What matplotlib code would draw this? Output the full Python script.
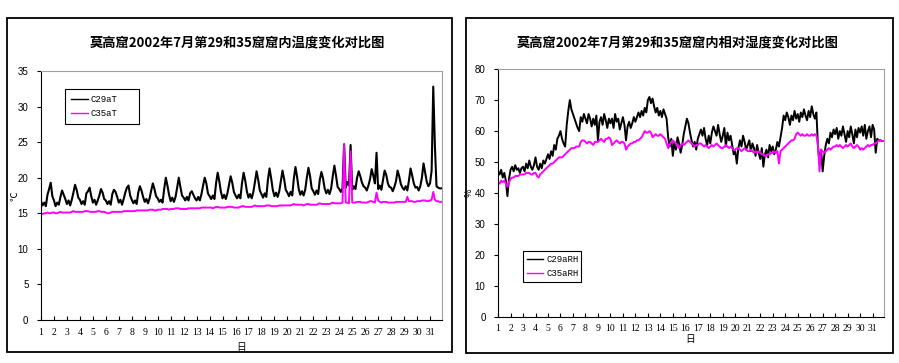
import numpy as np
import matplotlib.pyplot as plt
from matplotlib.patches import Rectangle

plt.rcParams['font.family'] = ['Liberation Sans', 'DejaVu Sans']

# readings every 3 hours, 8 per day, July 1 - 31 (one row per day)
c29_temp = [
    16.7, 16.1, 16.5, 16.0, 17.6, 18.4, 19.3, 17.4,
    16.8, 16.0, 16.5, 16.2, 17.3, 18.2, 17.6, 17.0,
    16.3, 16.8, 16.1, 16.9, 17.9, 19.0, 18.3, 17.2,
    16.9, 16.3, 16.7, 16.2, 17.8, 18.1, 18.6, 17.4,
    16.5, 16.9, 16.2, 16.8, 17.5, 18.4, 17.9, 17.0,
    16.8, 16.3, 16.7, 16.2, 17.7, 18.3, 18.0, 17.3,
    16.5, 16.9, 16.2, 17.0, 17.9, 18.6, 18.9, 17.5,
    16.9, 16.4, 16.8, 16.3, 17.9, 18.8, 18.2, 17.3,
    16.6, 17.0, 16.4, 17.1, 18.2, 19.2, 18.4, 17.4,
    17.1, 16.6, 16.9, 16.5, 18.4, 20.0, 18.9, 17.6,
    16.7, 17.2, 16.6, 17.3, 18.6, 20.0, 18.7, 17.5,
    17.2, 16.8, 17.3, 16.8, 17.8, 18.1, 17.6, 17.1,
    16.8, 17.3, 16.8, 17.7, 18.9, 20.0, 19.2, 17.8,
    17.4, 17.0, 17.5, 17.0, 19.2, 20.7, 19.5, 18.0,
    17.1, 17.6, 17.0, 17.8, 19.0, 20.2, 19.3, 18.0,
    17.5, 17.1, 17.6, 17.1, 19.2, 20.7, 19.6, 18.1,
    17.2, 17.7, 17.1, 18.0, 19.4, 20.9, 19.7, 18.2,
    17.7, 17.2, 17.8, 17.3, 19.7, 21.3, 19.9, 18.3,
    17.4, 17.9, 17.3, 18.1, 19.6, 21.0, 19.8, 18.3,
    17.9, 17.4, 18.0, 17.5, 19.9, 21.5, 20.1, 18.4,
    17.6, 18.1, 17.5, 18.3, 20.0, 21.4, 20.2, 18.5,
    18.1, 17.6, 18.2, 17.7, 19.7, 20.8, 19.9, 18.5,
    17.8, 18.3, 17.7, 18.5, 20.2, 21.7, 20.3, 18.7,
    18.4, 18.0, 18.5, 24.7, 18.6, 19.4, 18.9, 24.6,
    18.3, 18.8, 18.4, 20.0, 20.9, 20.2, 19.3, 18.8,
    18.6, 18.2, 18.9, 19.8, 21.2, 20.3, 19.2, 23.5,
    18.4, 18.9, 18.3, 19.7, 21.0, 20.4, 19.2, 18.7,
    18.6, 18.1, 18.7, 19.5, 21.0, 20.2, 19.1, 18.6,
    18.3, 18.8, 18.2, 19.6, 21.3, 20.3, 19.2, 18.6,
    18.7, 18.2, 18.8, 20.0, 22.0, 20.7, 19.4, 18.8,
    19.2, 21.0, 32.8, 24.5, 18.8, 18.6, 18.5, 18.5,
]
c35_temp = [
    14.9, 14.9, 15.0, 15.0, 15.1, 15.0, 15.0, 15.1,
    15.1, 15.0, 15.0, 15.1, 15.2, 15.1, 15.1, 15.1,
    15.1, 15.1, 15.1, 15.2, 15.3, 15.2, 15.2, 15.2,
    15.2, 15.2, 15.2, 15.3, 15.3, 15.3, 15.2, 15.2,
    15.2, 15.2, 15.2, 15.3, 15.3, 15.2, 15.2, 15.2,
    15.1, 15.0, 15.0, 15.1, 15.2, 15.2, 15.2, 15.2,
    15.2, 15.2, 15.2, 15.3, 15.3, 15.3, 15.3, 15.3,
    15.3, 15.3, 15.3, 15.4, 15.4, 15.4, 15.4, 15.4,
    15.4, 15.4, 15.4, 15.5, 15.5, 15.5, 15.4, 15.4,
    15.5, 15.5, 15.5, 15.6, 15.6, 15.6, 15.6, 15.5,
    15.6, 15.6, 15.6, 15.7, 15.7, 15.7, 15.6, 15.6,
    15.6, 15.6, 15.6, 15.7, 15.7, 15.7, 15.7, 15.7,
    15.7, 15.7, 15.7, 15.8, 15.8, 15.8, 15.8, 15.8,
    15.8, 15.8, 15.7, 15.8, 15.9, 15.9, 15.8, 15.8,
    15.8, 15.8, 15.8, 15.9, 15.9, 15.9, 15.9, 15.8,
    15.8, 15.8, 15.8, 15.9, 16.0, 16.0, 15.9, 15.9,
    15.9, 15.9, 15.9, 16.0, 16.1, 16.0, 16.0, 16.0,
    16.0, 16.0, 16.0, 16.1, 16.1, 16.1, 16.0, 16.0,
    16.0, 16.0, 16.0, 16.1, 16.1, 16.1, 16.1, 16.1,
    16.1, 16.1, 16.1, 16.2, 16.3, 16.2, 16.2, 16.2,
    16.2, 16.2, 16.1, 16.2, 16.3, 16.3, 16.2, 16.2,
    16.2, 16.2, 16.2, 16.3, 16.4, 16.3, 16.3, 16.3,
    16.3, 16.3, 16.3, 16.4, 16.5, 16.4, 16.4, 16.4,
    16.4, 16.4, 16.5, 24.6, 16.5, 16.5, 16.4, 23.7,
    16.5, 16.5, 16.5, 16.6, 16.6, 16.6, 16.5, 16.5,
    16.5, 16.5, 16.6, 16.7, 16.7, 16.6, 16.5, 17.9,
    16.8, 16.6, 16.5, 16.6, 16.6, 16.6, 16.5, 16.5,
    16.5, 16.5, 16.5, 16.6, 16.6, 16.6, 16.6, 16.6,
    16.6, 16.6, 17.3, 16.7, 16.7, 16.7, 16.6, 16.6,
    16.7, 16.7, 16.7, 16.8, 16.8, 16.8, 16.7, 16.7,
    16.8, 16.9, 18.0, 16.9, 16.7, 16.7, 16.6, 16.6,
]
c29_rh = [
    47.0, 46.0, 47.5, 45.0, 46.5, 44.0, 39.0, 44.5,
    47.5, 48.5, 47.0, 49.0, 47.5, 48.0, 46.5, 48.0,
    48.5, 47.0, 49.5, 48.0, 50.5, 48.5, 47.5, 49.0,
    51.5, 48.5, 47.5, 49.5, 48.0, 50.5, 49.5, 51.0,
    52.5, 51.0, 53.5, 52.0, 55.5, 54.0, 57.5, 58.5,
    60.0, 57.5, 56.0, 55.0, 62.0, 66.5, 70.0, 67.0,
    65.5, 64.0, 62.5, 61.0, 60.0, 64.5, 63.0, 65.5,
    64.0, 62.5, 65.5, 64.0, 61.5, 64.0, 62.0, 65.0,
    57.0, 63.0, 64.5, 62.0, 65.5, 63.5, 61.0, 64.0,
    62.5, 64.0, 61.0, 65.5, 63.0, 64.0, 60.5, 62.5,
    64.5, 62.0, 57.0, 61.5, 63.0, 61.0, 62.5, 64.5,
    63.0, 64.5, 66.0, 64.5, 66.5, 65.0, 67.5, 66.0,
    70.0, 71.0, 69.0, 70.5, 68.0, 66.0, 67.5, 65.0,
    66.5, 64.5, 67.0, 65.5, 64.0, 58.0, 55.0, 57.5,
    52.0, 56.5, 54.0, 58.0, 56.0, 53.0, 55.5, 59.0,
    61.5, 64.0, 62.5, 59.5, 57.0, 55.0, 56.5, 54.0,
    57.5, 59.0, 60.5, 58.5, 61.0, 57.5, 55.5, 58.5,
    56.0, 59.5, 61.5, 60.0, 58.5, 62.0, 59.0, 56.5,
    58.5, 61.0, 55.0, 59.5, 57.0, 58.5, 55.5, 52.5,
    53.5, 49.5, 54.5, 57.0, 55.0, 58.5, 56.5, 54.0,
    55.5, 57.0, 53.5, 56.0, 54.5, 52.0, 55.5, 53.0,
    51.0, 54.5, 48.5, 52.5, 54.0, 51.5, 55.5, 53.5,
    55.0, 52.5, 54.0, 56.5, 55.0, 58.0, 61.0, 65.0,
    63.5, 66.0, 64.5, 62.0, 65.0, 63.5, 66.5, 64.0,
    65.5, 63.0, 66.0, 64.5, 67.0, 65.0, 63.5, 66.5,
    64.5, 68.0, 65.5, 64.0, 66.0, 55.0, 50.0, 54.0,
    47.0, 52.0, 55.5, 57.5, 56.0, 59.5, 58.0, 60.5,
    59.0, 61.0, 57.5, 60.0, 58.5, 61.5, 59.0, 56.5,
    60.0, 58.0, 61.5, 59.0, 56.0, 60.5, 58.0, 61.0,
    59.5, 61.5, 58.5, 62.0, 57.5, 60.0, 61.5, 58.0,
    62.0, 60.5, 53.0, 57.5, 57.0, 57.0, 56.8, 56.8,
]
c35_rh = [
    43.5, 43.0, 44.0, 43.5, 44.0, 43.0, 42.0, 43.5,
    44.5, 45.0, 45.0, 45.5, 45.5, 45.5, 46.0, 46.0,
    46.0, 46.0, 46.5, 46.5, 46.5, 46.0, 46.0, 46.5,
    46.5, 45.5, 45.0, 46.0, 46.5, 47.0, 47.5, 48.0,
    48.5, 49.0, 49.5, 49.5, 50.0, 50.5, 51.0, 51.5,
    51.5, 51.5, 52.0, 52.5, 53.0, 53.5, 54.0, 54.5,
    54.5, 54.5, 55.0, 55.0, 55.0, 56.5, 57.0, 57.0,
    56.5, 56.0, 56.5, 56.5, 56.0, 55.5, 56.5, 56.5,
    56.5, 57.0, 57.5, 57.0, 56.5, 57.5, 57.5, 58.0,
    57.5, 55.5, 56.0, 56.5, 57.0, 56.5, 56.0, 56.5,
    56.5, 56.0, 54.0, 55.0, 55.5, 56.0, 56.0, 56.5,
    56.5, 57.0, 57.0, 57.5, 58.0, 59.0, 60.0, 59.5,
    59.5, 60.0, 59.5, 58.0, 58.5, 59.0, 58.5, 58.5,
    59.0, 58.5, 58.0, 57.5, 56.0, 54.5, 55.5, 56.5,
    57.0, 56.5, 56.0, 55.0, 54.5, 55.5, 56.0, 55.5,
    56.0, 56.5, 57.0, 56.5, 56.0, 55.5, 55.0, 55.5,
    55.5, 56.0, 56.0, 55.5, 55.0, 55.5, 55.0, 54.5,
    55.0, 55.5, 55.0, 55.5, 56.0, 55.5, 55.0, 54.5,
    54.5, 55.0, 55.5, 55.0, 54.5, 55.0, 54.5, 54.0,
    54.0, 54.5, 54.5, 54.0, 53.5, 54.0, 54.5, 54.0,
    53.5, 53.5, 54.0, 53.5, 53.0, 53.5, 53.0, 53.5,
    53.0, 52.5, 52.5, 52.0, 52.0, 52.5, 52.5, 53.0,
    53.0, 53.5, 53.0, 53.5, 49.5, 53.5, 54.0, 54.5,
    55.0, 55.5, 56.0, 56.5, 57.0, 57.0, 57.5, 59.0,
    59.5, 59.0, 58.5, 59.0, 58.5, 58.5, 59.0, 58.5,
    58.5, 59.0, 58.5, 59.0, 58.5, 55.5, 47.0, 54.0,
    53.5, 53.0, 53.5, 54.0, 54.5, 54.0, 54.5, 55.0,
    55.0, 55.5, 55.0, 55.5, 55.0, 54.5, 55.0, 55.5,
    55.0, 55.5, 56.0, 55.0, 54.5, 55.0, 55.5, 55.0,
    54.0, 54.5, 54.0, 54.5, 55.0, 55.5, 55.0, 55.5,
    55.5, 56.0, 56.0, 56.5, 57.0, 57.0, 56.8, 56.8,
]
days = list(range(1, 32))
t = 1 + np.arange(len(c29_temp)) / 8

title_font = ['Noto Sans CJK SC', 'DejaVu Sans']

fig = plt.figure(figsize=(8.99, 3.63), dpi=100)

# outer chart frames
fig.patches.append(Rectangle((0.0078, 0.0303), 0.495, 0.920, transform=fig.transFigure,
                             fill=False, edgecolor='black', linewidth=1.3))
fig.patches.append(Rectangle((0.5184, 0.0275), 0.475, 0.923, transform=fig.transFigure,
                             fill=False, edgecolor='black', linewidth=1.3))


def style_axes(ax, ymax, ystep, xpad):
    ax.set_xlim(1, 31.92)
    ax.set_ylim(0, ymax)
    ax.set_yticks(range(0, ymax + 1, ystep))
    ax.set_xticks(days)
    ax.set_xticklabels([str(d) for d in days], fontfamily='Liberation Serif', fontsize=7)
    for lab in ax.get_yticklabels():
        lab.set_fontsize(7)
    ax.tick_params(axis='x', direction='in', length=3, width=0.8, pad=xpad)
    ax.tick_params(axis='y', direction='out', length=3, width=0.8, pad=6)
    ax.spines['left'].set_color('black')
    ax.spines['bottom'].set_color('black')
    ax.spines['top'].set_color('#a0a0a0')
    ax.spines['right'].set_color('#a0a0a0')


def add_legend(ax, left, top, width, pad):
    # legend box placed in figure pixels, stretched to the box width
    leg = ax.legend(loc='upper left', mode='expand',
                    bbox_to_anchor=(left / 899, 1 - top / 363, width / 899, 0.001),
                    bbox_transform=fig.transFigure,
                    fancybox=False, edgecolor='black', framealpha=1, handlelength=1.8,
                    handletextpad=0.3, borderaxespad=0, borderpad=pad, labelspacing=0.55,
                    prop={'family': 'Liberation Mono', 'size': 6.5})
    leg.get_frame().set_linewidth(0.8)
    for line in leg.get_lines():
        line.set_linewidth(1.0)


# temperature
ax1 = fig.add_axes([0.0456, 0.1185, 0.446, 0.686])
ax1.plot(t, c29_temp, color='black', linewidth=1.5, label='C29aT')
ax1.plot(t, c35_temp, color='#ff00ff', linewidth=1.4, label='C35aT')
style_axes(ax1, 35, 5, 6)
add_legend(ax1, 65, 89, 74, 0.7)
fig.text(237 / 899, 1 - 42 / 363, '莫高窟2002年7月第29和35窟窟内温度变化对比图', ha='center', va='center',
         fontsize=9.5, fontweight='bold', family=title_font)
fig.text(15 / 899, 1 - 196 / 363, '℃', ha='center', va='center', rotation=90, fontsize=7, family=title_font)
fig.text(241 / 899, 1 - 347 / 363, '日', ha='center', va='center', fontsize=7, family=title_font)

# relative humidity
ax2 = fig.add_axes([0.554, 0.1267, 0.4294, 0.683])
ax2.plot(t, c29_rh, color='black', linewidth=1.4, label='C29aRH')
ax2.plot(t, c35_rh, color='#ff00ff', linewidth=1.4, label='C35aRH')
style_axes(ax2, 80, 10, 5)
add_legend(ax2, 523, 251, 58, 0.45)
fig.text(678 / 899, 1 - 42 / 363, '莫高窟2002年7月第29和35窟窟内相对湿度变化对比图', ha='center', va='center',
         fontsize=9.5, fontweight='bold', family=title_font)
fig.text(469 / 899, 1 - 193 / 363, '%', ha='center', va='center', rotation=90, fontsize=6.5, family=title_font)
fig.text(690 / 899, 1 - 339 / 363, '日', ha='center', va='center', fontsize=7, family=title_font)

fig.savefig('out.png', dpi=100)
